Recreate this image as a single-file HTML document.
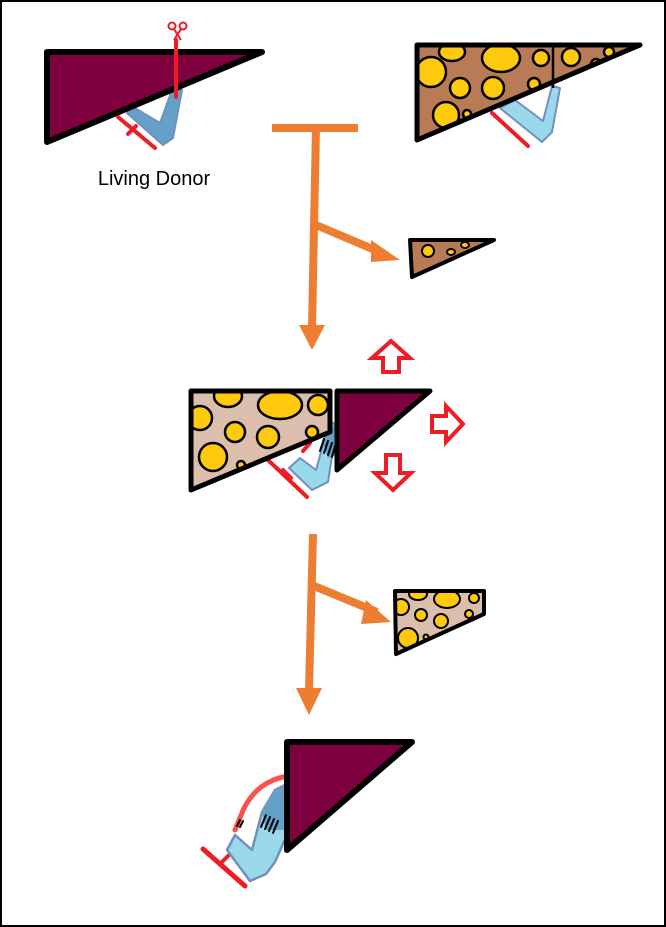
<!DOCTYPE html>
<html><head><meta charset="utf-8"><style>
html,body{margin:0;padding:0;background:#fff}
svg{display:block}
</style></head><body>
<svg width="666" height="927" viewBox="0 0 666 927" xmlns="http://www.w3.org/2000/svg">
<rect x="1" y="1" width="664" height="925" fill="#fff" stroke="#000" stroke-width="2"/>

<!-- Donor -->
<g stroke-linecap="round" stroke-linejoin="round">
<line x1="118" y1="117" x2="155" y2="148" stroke="#ee1c24" stroke-width="4"/>
<line x1="140" y1="104" x2="152" y2="92" stroke="#ee1c24" stroke-width="4"/>
<line x1="136" y1="126" x2="128" y2="134" stroke="#ee1c24" stroke-width="4"/>
<path d="M127,113 L163,145 L173,138 L182,90 L172,90 L160,123 L133,107 Z" fill="#64a0c8" stroke="#7090c0" stroke-width="2"/>
<polygon points="47,52 262,52 47,142" fill="#7f003f" stroke="#000" stroke-width="6"/>
<line x1="176" y1="40" x2="176" y2="97" stroke="#ee1c24" stroke-width="4"/>
</g>
<!-- scissors -->
<g stroke="#ee1c24" stroke-width="2" fill="none">
<circle cx="172" cy="26" r="3.5"/><circle cx="183" cy="26" r="3.5"/>
<line x1="174" y1="29" x2="181" y2="40"/><line x1="181" y1="29" x2="174" y2="40"/>
</g>
<text x="154" y="185" font-family="Liberation Sans, sans-serif" font-size="20" fill="#000" text-anchor="middle">Living Donor</text>

<!-- Recipient top right -->
<g stroke-linecap="round" stroke-linejoin="round">
<line x1="492" y1="113" x2="528" y2="146" stroke="#ee1c24" stroke-width="4"/>
<line x1="505" y1="100" x2="528" y2="122" stroke="#ee1c24" stroke-width="4"/>
<path d="M500,108 L542,142 L552,132 L560,88 L552,86 L543,121 L515,100 Z" fill="#99d9ea" stroke="#7090c0" stroke-width="2"/>
</g>
<clipPath id="c1"><polygon points="417,45 640,45 417,140"/></clipPath>
<polygon points="417,45 640,45 417,140" fill="#b97a56"/>
<g clip-path="url(#c1)" fill="#ffc90e" stroke="#000" stroke-width="2.5">
<circle cx="431" cy="72" r="15"/><ellipse cx="452" cy="52" rx="13" ry="9"/>
<ellipse cx="501" cy="58" rx="19" ry="14"/><circle cx="541" cy="58" r="8"/>
<circle cx="460" cy="88" r="10"/><circle cx="493" cy="88" r="11"/>
<circle cx="534" cy="84" r="6"/><circle cx="446" cy="115" r="13"/>
<circle cx="467" cy="114" r="4"/><circle cx="571" cy="57" r="9"/>
<circle cx="596" cy="64" r="5"/><circle cx="609" cy="52" r="5"/>
</g>
<line x1="553" y1="45" x2="553" y2="88" stroke="#000" stroke-width="2.5"/>
<polygon points="417,45 640,45 417,140" fill="none" stroke="#000" stroke-width="5" stroke-linejoin="round"/>

<!-- Orange arrows 1 -->
<g fill="#ed7d31" stroke="#ed7d31">
<line x1="272" y1="128" x2="358" y2="128" stroke-width="8"/>
<line x1="316" y1="128" x2="312" y2="328" stroke-width="8"/>
<polygon points="299,325 325,325 312,350" stroke="none"/>
<line x1="316" y1="225" x2="382" y2="253" stroke-width="8"/>
<polygon points="371,240 400,260 371,262" stroke="none"/>
</g>
<!-- small graft -->
<clipPath id="c2"><polygon points="410,240 494,240 412,277"/></clipPath>
<polygon points="410,240 494,240 412,277" fill="#b97a56"/>
<g clip-path="url(#c2)" fill="#ffc90e" stroke="#000" stroke-width="2">
<circle cx="428" cy="251" r="6"/><ellipse cx="465" cy="245" rx="4" ry="3"/><ellipse cx="451" cy="252" rx="4" ry="3"/>
</g>
<polygon points="410,240 494,240 412,277" fill="none" stroke="#000" stroke-width="4" stroke-linejoin="round"/>

<!-- Middle -->
<g stroke-linecap="round" stroke-linejoin="round">
<line x1="268" y1="460" x2="307" y2="497" stroke="#ee1c24" stroke-width="4"/>
<line x1="303" y1="451" x2="310" y2="443" stroke="#ee1c24" stroke-width="4"/>
<line x1="283" y1="470" x2="291" y2="478" stroke="#ee1c24" stroke-width="4"/>
<path d="M289,468 L312,490 L328,482 L336,430 L334,424 L330,420 L316,470 L300,458 Z" fill="#99d9ea" stroke="#7090c0" stroke-width="2"/>
<path d="M322,440 L336,424 L336,455 L328,458 Z" fill="#64a0c8" stroke="none"/>
<g stroke="#000" stroke-width="2"><line x1="320" y1="451" x2="324" y2="439"/><line x1="324" y1="453" x2="328" y2="441"/><line x1="328" y1="455" x2="332" y2="443"/><line x1="332" y1="457" x2="335" y2="446"/></g>
</g>
<clipPath id="c3"><polygon points="191,391 330,391 330,432 191,490"/></clipPath>
<polygon points="191,391 330,391 330,432 191,490" fill="#dbbeac"/>
<g clip-path="url(#c3)" fill="#ffc90e" stroke="#000" stroke-width="2.5">
<ellipse cx="228" cy="396" rx="14" ry="11"/><ellipse cx="280" cy="405" rx="22" ry="14"/>
<circle cx="318" cy="405" r="10"/><circle cx="200" cy="418" r="12"/>
<circle cx="235" cy="432" r="10"/><circle cx="268" cy="437" r="11"/>
<circle cx="312" cy="432" r="6"/><circle cx="213" cy="457" r="14"/>
<circle cx="241" cy="465" r="4"/>
</g>
<polygon points="191,391 330,391 330,432 191,490" fill="none" stroke="#000" stroke-width="5" stroke-linejoin="round"/>
<polygon points="337,391 430,391 337,470" fill="#7f003f" stroke="#000" stroke-width="5" stroke-linejoin="round"/>
<!-- red hollow arrows -->
<g fill="none" stroke="#ee1c24" stroke-width="4" stroke-linejoin="miter">
<polygon points="391,341 410,358 399,358 399,372 383,372 383,358 372,358"/>
<polygon points="463,424 446,442 446,432 432,432 432,416 446,416 446,406"/>
<polygon points="393,490 411,473 400,473 400,455 386,455 386,473 375,473"/>
</g>

<!-- Orange arrows 2 -->
<g fill="#ed7d31" stroke="#ed7d31">
<line x1="313" y1="534" x2="309" y2="690" stroke-width="8"/>
<polygon points="296,688 322,688 309,715" stroke="none"/>
<line x1="314" y1="586" x2="377" y2="612" stroke-width="8"/>
<polygon points="366,600 391,622 361,624" stroke="none"/>
</g>
<clipPath id="c4"><polygon points="395,591 484,591 484,614 396,654"/></clipPath>
<polygon points="395,591 484,591 484,614 396,654" fill="#dbbeac"/>
<g clip-path="url(#c4)" fill="#ffc90e" stroke="#000" stroke-width="2">
<ellipse cx="418" cy="594" rx="9" ry="6"/><ellipse cx="447" cy="599" rx="13" ry="9"/>
<circle cx="474" cy="598" r="5"/><circle cx="401" cy="607" r="8"/>
<circle cx="421" cy="615" r="6"/><circle cx="441" cy="621" r="7"/>
<circle cx="469" cy="614" r="4"/><circle cx="408" cy="638" r="10"/>
<circle cx="426" cy="637" r="2.5"/>
</g>
<polygon points="395,591 484,591 484,614 396,654" fill="none" stroke="#000" stroke-width="4" stroke-linejoin="round"/>

<!-- Bottom -->
<g stroke-linecap="round" stroke-linejoin="round">
<path d="M235,830 L244,808 C255,788 268,780 287,776" fill="none" stroke="#ff5050" stroke-width="5"/>
<line x1="203" y1="849" x2="245" y2="886" stroke="#ee1c24" stroke-width="5"/>
<line x1="221" y1="863" x2="229" y2="855" stroke="#ee1c24" stroke-width="4"/>
<path d="M227,850 L235,835 L252,850 L262,812 L275,790 L287,784 L287,835 L275,862 L266,874 L250,881 Z" fill="#99d9ea" stroke="#7090c0" stroke-width="2.5"/>
<path d="M262,812 L275,790 L287,784 L287,830 L266,830 Z" fill="#64a0c8"/>
<g stroke="#000" stroke-width="2"><line x1="261" y1="827" x2="266" y2="815"/><line x1="265" y1="829" x2="270" y2="817"/><line x1="269" y1="831" x2="274" y2="819"/><line x1="273" y1="833" x2="278" y2="821"/>
<line x1="237" y1="826" x2="240" y2="820"/><line x1="240" y1="827" x2="243" y2="821"/></g>
</g>
<polygon points="287,742 412,742 287,850" fill="#7f003f" stroke="#000" stroke-width="6" stroke-linejoin="round"/>
</svg>
</body></html>
